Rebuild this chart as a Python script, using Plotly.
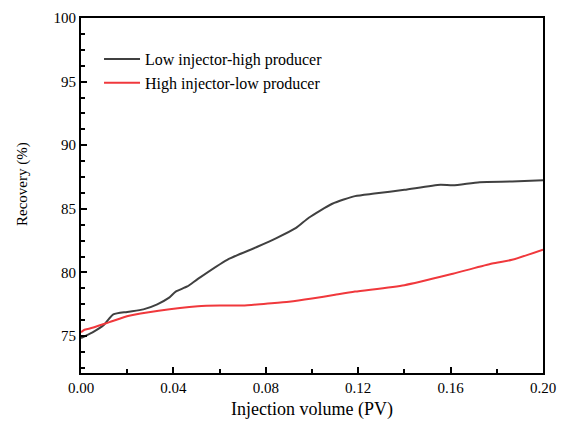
import plotly.graph_objects as go

# Injection volume (PV) and recovery (%)
low_inj_x = [0, 0.005, 0.010, 0.014, 0.020, 0.027, 0.033, 0.038, 0.041, 0.046, 0.0506,
             0.0633, 0.0761, 0.0846, 0.0931, 0.0986, 0.1088, 0.1186, 0.127, 0.140,
             0.1556, 0.161, 0.1726, 0.1866, 0.200]
low_inj_y = [74.85, 75.3, 75.9, 76.7, 76.9, 77.1, 77.5, 78.0, 78.5, 78.9, 79.5,
             81.0, 82.0, 82.7, 83.5, 84.3, 85.4, 86.0, 86.2, 86.5,
             86.9, 86.85, 87.1, 87.15, 87.25]

high_inj_x = [0, 0.0015, 0.0038, 0.0123, 0.0208, 0.0336, 0.0506, 0.060, 0.070, 0.080,
              0.090, 0.100, 0.110, 0.1186, 0.140, 0.161, 0.178, 0.1866, 0.200]
high_inj_y = [75.3, 75.5, 75.6, 76.1, 76.6, 77.0, 77.35, 77.4, 77.4, 77.55,
              77.7, 77.95, 78.25, 78.5, 79.0, 79.9, 80.7, 81.0, 81.8]

FONT = "Liberation Serif, Times New Roman, serif"

fig = go.Figure()
fig.add_trace(go.Scatter(x=low_inj_x, y=low_inj_y, mode="lines",
                         name="Low injector-high producer",
                         line=dict(color="#404040", width=2, shape="spline", smoothing=0.6)))
fig.add_trace(go.Scatter(x=high_inj_x, y=high_inj_y, mode="lines",
                         name="High injector-low producer",
                         line=dict(color="#f0383c", width=2, shape="spline", smoothing=0.6)))

axis_common = dict(
    showline=True, linecolor="black", linewidth=2, mirror=True,
    ticks="inside", ticklen=6, tickwidth=1.5, tickcolor="black",
    showgrid=False, zeroline=False, automargin=False,
    ticklabeloverflow="allow",
    tickfont=dict(family=FONT, size=15, color="black"),
)

fig.update_xaxes(range=[0, 0.2], dtick=0.04, tick0=0, tickformat=".2f",
                 minor=dict(ticks="inside", dtick=0.02, ticklen=4, tickcolor="black"),
                 title=dict(text="Injection volume (PV)", standoff=11,
                            font=dict(family=FONT, size=18, color="black")),
                 **axis_common)
fig.update_yaxes(range=[72.1, 100], dtick=5, tick0=0,
                 minor=dict(ticks="inside", dtick=1.25, tick0=0, ticklen=4, tickcolor="black"),
                 **axis_common)

fig.add_annotation(text="Recovery (%)", textangle=-90, xref="paper", yref="paper",
                   x=-0.128, y=0.532, xanchor="center", yanchor="middle", showarrow=False,
                   font=dict(family=FONT, size=15, color="black"))

# page body adds an 8px offset; leave room so the last tick label is not clipped
fig.update_layout(
    width=557, height=412,
    margin=dict(l=73, r=22, t=10, b=47),
    plot_bgcolor="white", paper_bgcolor="white",
    showlegend=True,
    legend=dict(x=0.039, y=0.932, xanchor="left", yanchor="top",
                bgcolor="rgba(0,0,0,0)", tracegroupgap=0, itemwidth=36,
                font=dict(family=FONT, size=16, color="black")),
)

fig.write_html("out.html")
